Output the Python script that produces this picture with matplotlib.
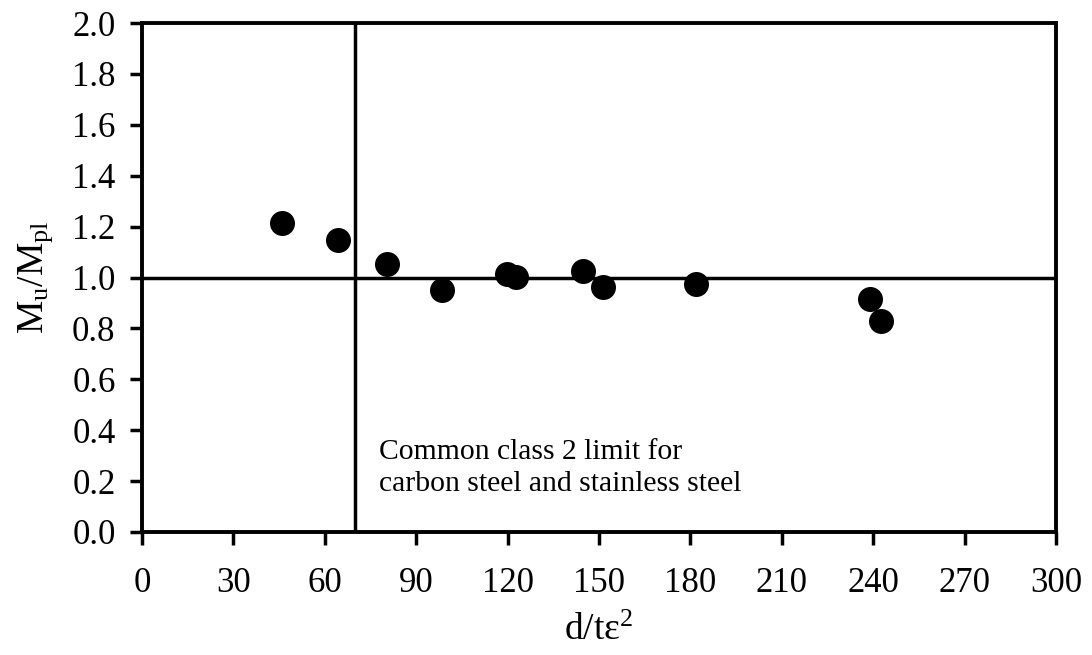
import matplotlib
matplotlib.use('Agg')
import matplotlib.pyplot as plt

# font setup, Times-like serif
plt.rcParams['font.family'] = ['Liberation Serif', 'DejaVu Serif']
plt.rcParams['mathtext.fontset'] = 'custom'
plt.rcParams['mathtext.rm'] = 'Liberation Serif'
plt.rcParams['mathtext.it'] = 'Liberation Serif'

# data
slenderness = [45.9, 64.3, 80.4, 98.5, 119.7, 122.7, 144.8, 151.4, 181.7, 238.9, 242.7]
moment_ratio = [1.214, 1.147, 1.053, 0.951, 1.014, 1.001, 1.027, 0.961, 0.973, 0.914, 0.830]
class2_limit = 70
ref_ratio = 1.0
x_ticks = list(range(0, 301, 30))
y_ticks = [i / 10 for i in range(0, 21, 2)]

fig = plt.figure(figsize=(10.92, 6.55), dpi=100)
ax = fig.add_axes([0.130, 0.1878, 0.837, 0.777])

ax.axhline(ref_ratio, color='black', lw=2.5, zorder=1)
ax.axvline(class2_limit, color='black', lw=2.5, zorder=1)
ax.scatter(slenderness, moment_ratio, s=324, color='black', lw=0, zorder=3)

ax.set_xlim(0, 300)
ax.set_ylim(0, 2.0)
ax.set_xticks(x_ticks)
ax.set_yticks(y_ticks)
ax.set_yticklabels([f'{v:.1f}' for v in y_ticks])
ax.tick_params(axis='both', labelsize=25, width=2.5, length=9, direction='out')
ax.tick_params(axis='x', pad=16)
ax.tick_params(axis='y', pad=10)
for sp in ax.spines.values():
    sp.set_linewidth(2.8)

ax.set_xlabel(r'd/t$\mathrm{\varepsilon}^2$', fontsize=27, labelpad=10)
ax.set_ylabel(r'M$_\mathrm{u}$/M$_\mathrm{pl}$', fontsize=27, labelpad=12)

ax.text(class2_limit + 7.7, 0.365, 'Common class 2 limit for\ncarbon steel and stainless steel',
        fontsize=21.3, va='top', ha='left', linespacing=1.3)

fig.savefig('out.png', dpi=100)
